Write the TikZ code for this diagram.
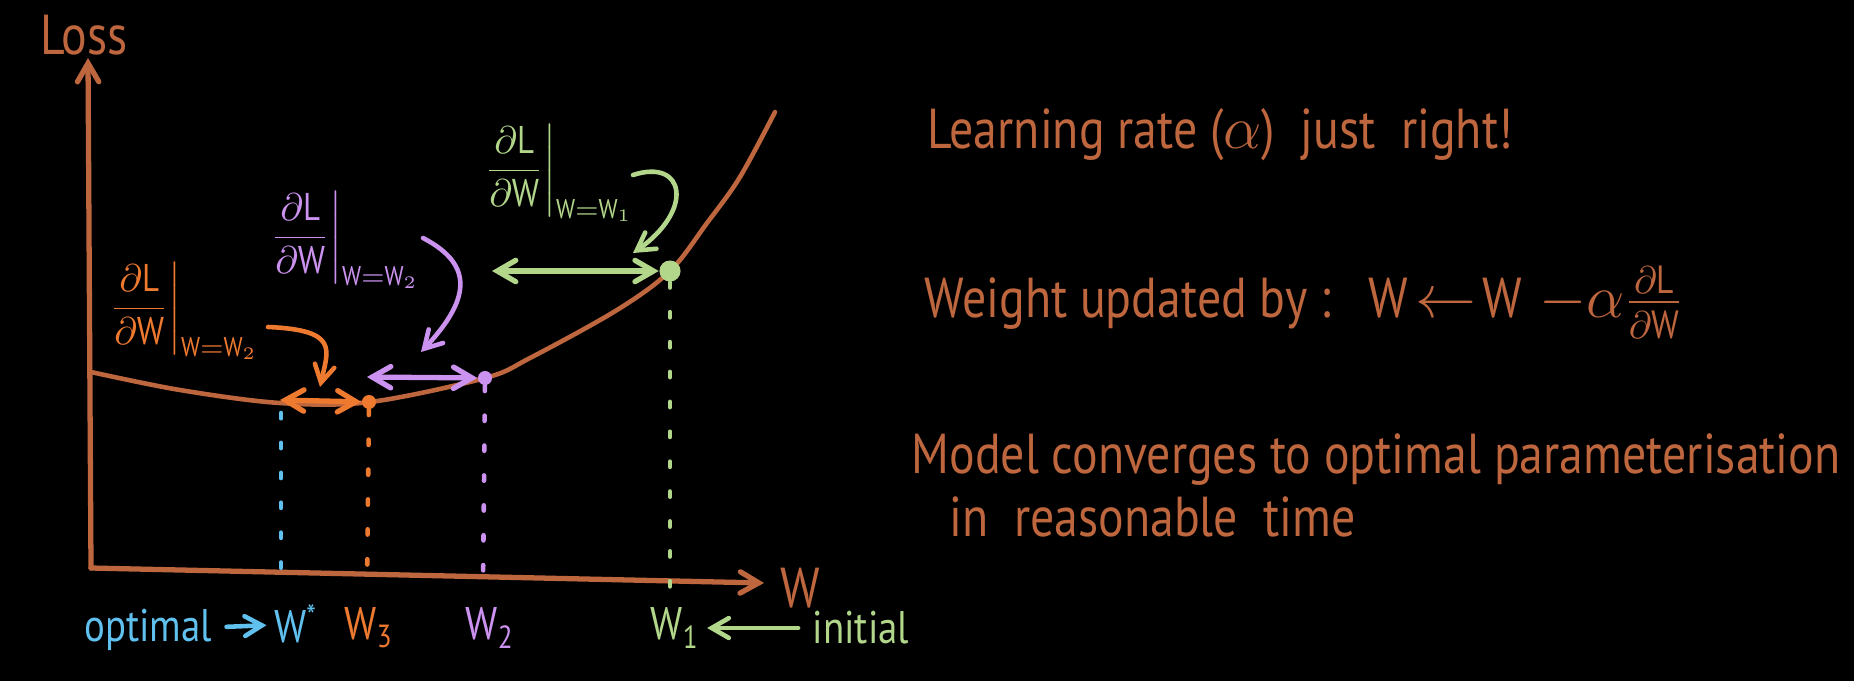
\documentclass[tikz,border=0pt]{standalone}
\usepackage{amsmath}
\usepackage{fontspec}
\setmainfont{PT Sans}[FakeStretch=0.85]
\usepackage{tikz}
\usetikzlibrary{arrows}
\definecolor{axis_brown}{RGB}{190,102,62}
\definecolor{grad_green}{RGB}{178,214,138}
\definecolor{grad_purple}{RGB}{204,146,240}
\definecolor{grad_orange}{RGB}{238,122,48}
\definecolor{opt_blue}{RGB}{96,192,238}

\begin{document}
\begin{tikzpicture}[x=0.01cm,y=-0.01cm,>=angle 60,line cap=round]
    \tikzstyle{hand}=[inner sep=0pt, font=\fontsize{16}{19}\selectfont]
    \tikzstyle{tick}=[inner sep=0pt, font=\fontsize{13}{15}\selectfont]
    \tikzstyle{grad}=[inner sep=0pt, font=\fontsize{11}{13}\selectfont]
    \tikzstyle{stroke}=[line width=1.5pt]
    \tikzstyle{jump}=[<->, line width=1.5pt]
    \tikzstyle{hook}=[->, line width=1.3pt]
    \tikzstyle{drop}=[line width=1.3pt, dash pattern=on 1.5pt off 7pt]
    \tikzstyle{dot}=[circle, inner sep=0pt, minimum size=4pt]

    \fill[black] (0,0) rectangle (1854,681);
    \useasboundingbox (0,0) rectangle (1854,681);

    % axes
    \coordinate (origin) at (91,568);
    \coordinate (ytop) at (88,58);
    \coordinate (xend) at (764,583);
    \draw[axis_brown, stroke, ->] (origin) -- (ytop);
    \draw[axis_brown, stroke, ->] (origin) -- (xend);
    \node[hand, text=axis_brown] (loss) at (84,35) {Loss};
    \node[hand, text=axis_brown] (wlab) at (800,588) {W};

    % loss curve
    \draw[axis_brown, line width=1.3pt] plot[smooth, tension=0.55] coordinates
      {(91,372) (180,390) (280,403) (370,402) (485,378) (530,358) (617,310) (670,271) (707,223) (740,177) (775,112)};

    % iterates on the curve
    \node[dot, fill=grad_green, minimum size=6pt] (d1) at (670,271) {};
    \node[dot, fill=grad_purple] (d2) at (485,378) {};
    \node[dot, fill=grad_orange] (d3) at (369,402) {};
    \coordinate (dopt) at (281,413);

    % drops to the w axis
    \coordinate (t1) at (670,590);
    \coordinate (t2) at (483,588);
    \coordinate (t3) at (367,588);
    \coordinate (topt) at (281,584);
    \draw[grad_green, drop] (d1) -- (t1);
    \draw[grad_purple, drop] (d2) -- (t2);
    \draw[grad_orange, drop] (d3) -- (t3);
    \draw[opt_blue, drop] (dopt) -- (topt);

    % steps
    \coordinate (g_left) at (492,271);
    \coordinate (p_left) at (367,377);
    \coordinate (o_left) at (280,400);
    \draw[jump, grad_green] (g_left) -- (d1);
    \draw[jump, grad_purple] (p_left) -- (d2);
    \draw[jump, grad_orange] (o_left) -- (d3);

    % gradient labels
    \node[grad, text=grad_green] (lg) at (557,173)
      {$\left.\dfrac{\partial \text{L}}{\partial \text{W}}\right|_{\text{W}=\text{W}_1}$};
    \node[grad, text=grad_purple] (lp) at (343,240)
      {$\left.\dfrac{\partial \text{L}}{\partial \text{W}}\right|_{\text{W}=\text{W}_2}$};
    \node[grad, text=grad_orange] (lo) at (182,311)
      {$\left.\dfrac{\partial \text{L}}{\partial \text{W}}\right|_{\text{W}=\text{W}_2}$};

    \coordinate (g_from) at (633,175);
    \coordinate (g_to) at (633,253);
    \coordinate (p_from) at (423,238);
    \coordinate (p_to) at (421,352);
    \coordinate (o_from) at (268,327);
    \coordinate (o_to) at (320,387);
    \draw[hook, grad_green] (g_from) .. controls (685,158) and (695,210) .. (g_to);
    \draw[hook, grad_purple] (p_from) .. controls (475,265) and (470,300) .. (p_to);
    \draw[hook, grad_orange] (o_from) .. controls (340,330) and (328,350) .. (o_to);

    % labels under the axis
    \node[tick, text=opt_blue] (optlab) at (148,630) {optimal};
    \node[tick, text=opt_blue] (wstar) at (296,624) {W\textsuperscript{*}};
    \node[tick, text=grad_orange] (w3lab) at (369,628) {W\textsubscript{3}};
    \node[tick, text=grad_purple] (w2lab) at (490,628) {W\textsubscript{2}};
    \node[tick, text=grad_green] (w1lab) at (675,628) {W\textsubscript{1}};
    \node[tick, text=grad_green] (initlab) at (861,628) {initial};
    \draw[hook, opt_blue, shorten <=4pt, shorten >=2pt] (optlab) -- (wstar);
    \draw[hook, grad_green, shorten <=4pt, shorten >=2pt] (initlab) -- (w1lab);

    % notes on the right
    \node[hand, text=axis_brown, anchor=west] (note1) at (927,135)
      {Learning rate ($\alpha$) \ just \ right!};
    \node[hand, text=axis_brown, anchor=west] (note2) at (924,302)
      {Weight updated by :\ \ \ $\text{W}\!\leftarrow\!\text{W}\;{-}\alpha\frac{\partial \text{L}}{\partial \text{W}}$};
    \node[hand, text=axis_brown, anchor=west] (note3) at (911,460)
      {Model converges to optimal parameterisation};
    \node[hand, text=axis_brown, anchor=west] (note4) at (949,517)
      {in \ reasonable \ time};
\end{tikzpicture}
\end{document}
